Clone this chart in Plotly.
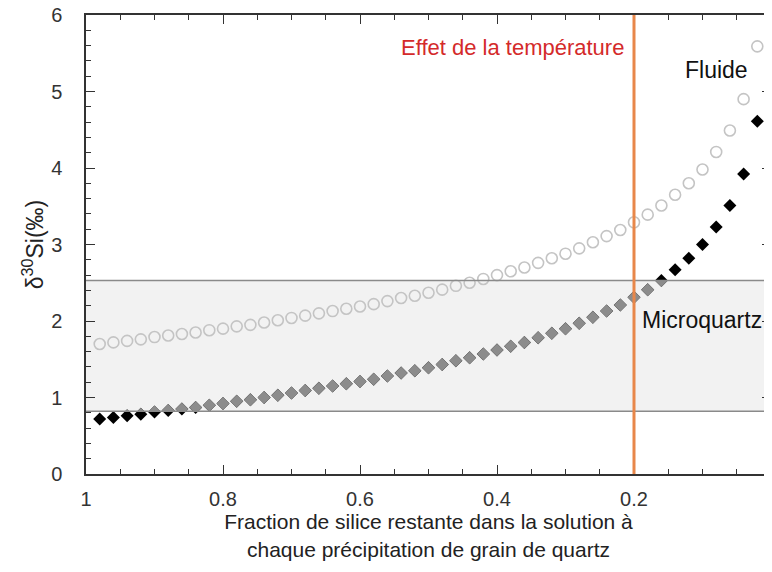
import plotly.graph_objects as go

# Fraction of silica remaining (x) and delta30Si values
fraction = [0.98, 0.96, 0.94, 0.92, 0.90, 0.88, 0.86, 0.84, 0.82, 0.80,
            0.78, 0.76, 0.74, 0.72, 0.70, 0.68, 0.66, 0.64, 0.62, 0.60,
            0.58, 0.56, 0.54, 0.52, 0.50, 0.48, 0.46, 0.44, 0.42, 0.40,
            0.38, 0.36, 0.34, 0.32, 0.30, 0.28, 0.26, 0.24, 0.22, 0.20,
            0.18, 0.16, 0.14, 0.12, 0.10, 0.08, 0.06, 0.04, 0.02]
fluide = [1.70, 1.72, 1.74, 1.76, 1.79, 1.81, 1.83, 1.85, 1.88, 1.90,
          1.93, 1.95, 1.98, 2.01, 2.04, 2.07, 2.10, 2.13, 2.16, 2.19,
          2.22, 2.26, 2.30, 2.33, 2.37, 2.41, 2.46, 2.50, 2.55, 2.60,
          2.65, 2.70, 2.76, 2.82, 2.88, 2.95, 3.03, 3.11, 3.19, 3.29,
          3.39, 3.51, 3.65, 3.80, 3.98, 4.21, 4.49, 4.90, 5.59]
microquartz = [0.72, 0.74, 0.76, 0.78, 0.81, 0.83, 0.85, 0.87, 0.90, 0.92,
               0.95, 0.97, 1.00, 1.03, 1.06, 1.09, 1.12, 1.15, 1.18, 1.21,
               1.24, 1.28, 1.32, 1.35, 1.39, 1.43, 1.48, 1.52, 1.57, 1.62,
               1.67, 1.72, 1.78, 1.84, 1.90, 1.97, 2.05, 2.13, 2.21, 2.31,
               2.41, 2.53, 2.67, 2.82, 3.00, 3.23, 3.51, 3.92, 4.61]
band_low, band_high = 0.82, 2.53
temp_fraction = 0.2
x_ticks = [1, 0.8, 0.6, 0.4, 0.2, 0]
x_tick_labels = ["1", "0.8", "0.6", "0.4", "0.2", "0"]
y_ticks = [0, 1, 2, 3, 4, 5, 6]

FONT = "Liberation Sans, Arial, sans-serif"

fig = go.Figure()

fig.add_trace(go.Scatter(
    x=fraction, y=fluide, mode="markers", name="Fluide",
    marker=dict(symbol="circle-open", size=11, color="#c4c4c4",
                line=dict(width=1.6, color="#c4c4c4")),
    xaxis="x", yaxis="y", showlegend=False))

fig.add_trace(go.Scatter(
    x=fraction, y=microquartz, mode="markers", name="Microquartz",
    marker=dict(symbol="diamond", size=10, color="#000000"),
    xaxis="x", yaxis="y", showlegend=False))

# gray copy of the diamonds, clipped to the band subplot
fig.add_trace(go.Scatter(
    x=fraction, y=microquartz, mode="markers", name="Microquartz (bande)",
    marker=dict(symbol="diamond", size=10, color="#8c8c8c"),
    xaxis="x2", yaxis="y2", showlegend=False, cliponaxis=True))

axis_common = dict(showline=True, linecolor="#333333", linewidth=1.5,
                   mirror="ticks", ticks="inside", tickcolor="#333333",
                   ticklen=9, tickwidth=1.3, showgrid=False, zeroline=False,
                   automargin=False, ticklabeloverflow="allow",
                   tickfont=dict(family=FONT, size=20, color="#333333"))

fig.update_layout(
    width=764, height=564,
    margin=dict(l=78, r=1, t=7, b=98),
    paper_bgcolor="white", plot_bgcolor="rgba(0,0,0,0)",
    xaxis=dict(range=[1, 0], domain=[0, 1], tickvals=x_ticks,
               ticktext=x_tick_labels,
               minor=dict(dtick=0.05, ticks="inside", ticklen=5,
                          tickcolor="#333333", tickwidth=1.2),
               title=dict(text="Fraction de silice restante dans la solution à<br>chaque précipitation de grain de quartz",
                          font=dict(family=FONT, size=21, color="#222222"),
                          standoff=6),
               ticklabelstandoff=6,
               **axis_common),
    yaxis=dict(range=[0, 6], domain=[0, 1], tickvals=y_ticks,
               minor=dict(dtick=0.2, ticks="inside", ticklen=5,
                          tickcolor="#333333", tickwidth=1.2),
               title=dict(text="δ<sup>30</sup>Si(‰)",
                          font=dict(family=FONT, size=23, color="#222222"),
                          standoff=1),
               ticklabelstandoff=18,
               **axis_common),
    xaxis2=dict(range=[1, 0], domain=[0, 1], anchor="y2", visible=False),
    yaxis2=dict(range=[band_low, band_high],
                domain=[band_low / 6, band_high / 6], anchor="x2",
                visible=False),
)

fig.add_shape(type="rect", xref="x domain", yref="y", x0=0, x1=1,
              y0=band_low, y1=band_high, fillcolor="#f2f2f2",
              line=dict(width=0), layer="below")
for yv in (band_low, band_high):
    fig.add_shape(type="line", xref="x domain", yref="y", x0=0, x1=1,
                  y0=yv, y1=yv, line=dict(color="#8a8a8a", width=1.5),
                  layer="above")
fig.add_shape(type="line", xref="x", yref="y domain", x0=temp_fraction,
              x1=temp_fraction, y0=0, y1=1,
              line=dict(color="#e8874a", width=3), layer="above")

fig.add_annotation(x=0.378, y=5.58, xref="x", yref="y",
                   text="Effet de la température", showarrow=False,
                   font=dict(family=FONT, size=22, color="#d42a2a"))
fig.add_annotation(x=0.079, y=5.28, xref="x", yref="y",
                   text="Fluide", showarrow=False,
                   font=dict(family=FONT, size=23, color="#111111"))
fig.add_annotation(x=0.101, y=2.01, xref="x", yref="y",
                   text="Microquartz", showarrow=False,
                   font=dict(family=FONT, size=23, color="#111111"))

fig.write_html("out.html")
